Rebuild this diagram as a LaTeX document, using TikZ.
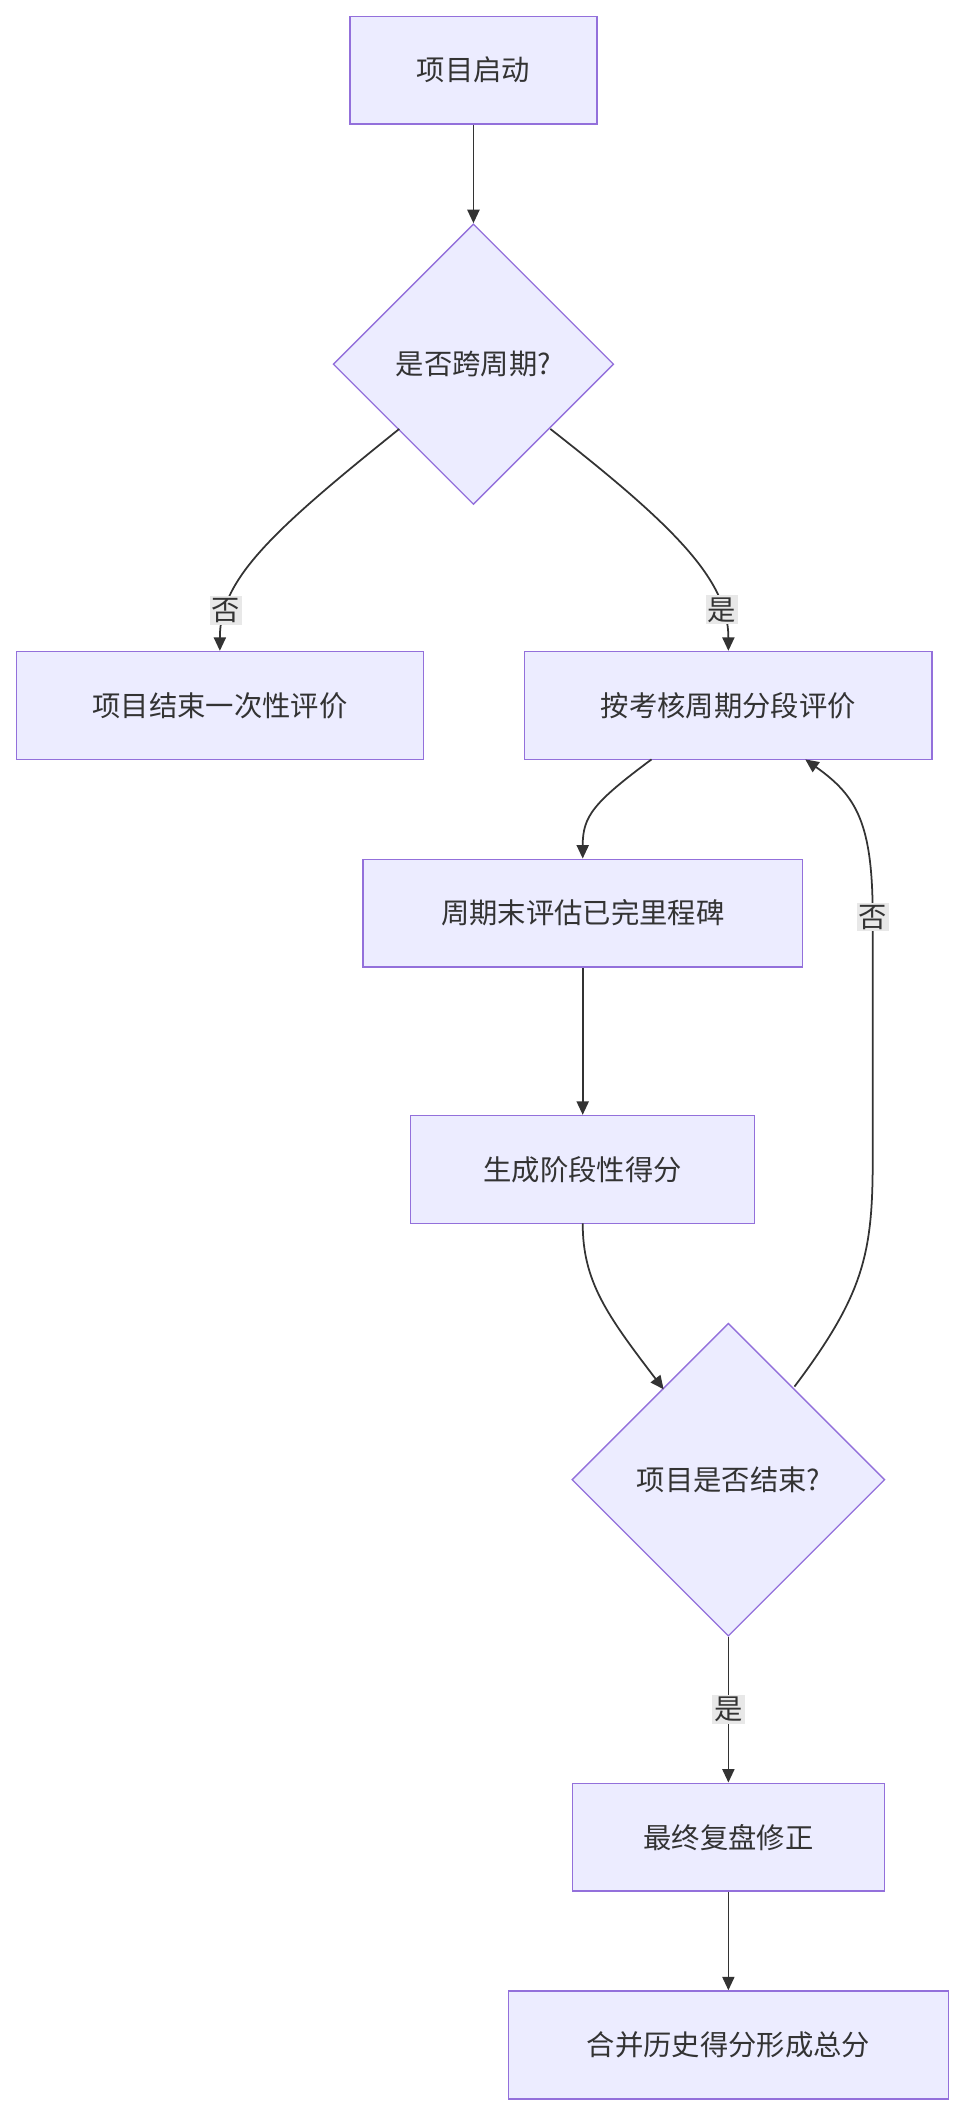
\documentclass[tikz,border=0pt]{standalone}
\usepackage{fontspec}
\setmainfont{Noto Sans CJK SC}
\usetikzlibrary{shapes.geometric,arrows.meta}
\definecolor{nf}{HTML}{ECECFF}
\definecolor{ns}{HTML}{9370DB}
\definecolor{ed}{HTML}{333333}
\definecolor{lb}{HTML}{E8E8E8}
\begin{document}
\begin{tikzpicture}[x=1pt,y=-1pt,
 box/.style={draw=ns,fill=nf,line width=1pt,minimum height=80pt,inner sep=0pt,font=\fontsize{21}{21}\selectfont,text=ed},
 dia/.style={draw=ns,fill=nf,line width=1pt,diamond,inner sep=0pt,aspect=1,font=\fontsize{21}{21}\selectfont,text=ed},
 ar/.style={draw=ed,line width=1.3pt,-{Triangle[length=10pt,width=9pt]}},
 lab/.style={fill=lb,inner sep=1.5pt,font=\fontsize{21}{21}\selectfont,text=ed}]
\useasboundingbox (0,0) rectangle (716,1568);
\node[box,minimum width=183pt] (A) at (351,52) {项目启动};
\node[dia,minimum width=208pt,minimum height=208pt] (B) at (351,270) {是否跨周期?};
\node[box,minimum width=302pt] (C) at (163,523) {项目结束一次性评价};
\node[box,minimum width=302pt] (D) at (540,523) {按考核周期分段评价};
\node[box,minimum width=326pt] (E) at (432,677) {周期末评估已完里程碑};
\node[box,minimum width=255pt] (F) at (432,867) {生成阶段性得分};
\node[dia,minimum width=232pt,minimum height=232pt] (G) at (540,1097) {项目是否结束?};
\node[box,minimum width=231pt] (H) at (540,1362) {最终复盘修正};
\node[box,minimum width=326pt] (I) at (540,1516) {合并历史得分形成总分};
\coordinate (b1) at (296,318); \coordinate (b2) at (408,318);
\coordinate (d1) at (483,563); \coordinate (f1) at (432,907);
\coordinate (g1) at (589,1028);
\draw[ar] (A) -- (B);
\draw[ar] (b1) .. controls (200,395) and (163,430) .. (C.north) node[lab,pos=0.8] {否};
\draw[ar] (b2) .. controls (500,390) and (540,430) .. (D.north) node[lab,pos=0.8] {是};
\draw[ar] (d1) .. controls (440,595) and (432,605) .. (E.north);
\draw[ar] (E) -- (F);
\draw[ar] (f1) .. controls (432,950) and (450,975) .. (492,1030);
\draw[ar] (g1) .. controls (640,960) and (647,930) .. (647,860) -- (647,680) .. controls (647,610) and (635,590) .. (597,563) node[lab,pos=0] at (647,772) {否};
\draw[ar] (G) -- (H) node[lab,midway] {是};
\draw[ar] (H) -- (I);
\end{tikzpicture}
\end{document}
